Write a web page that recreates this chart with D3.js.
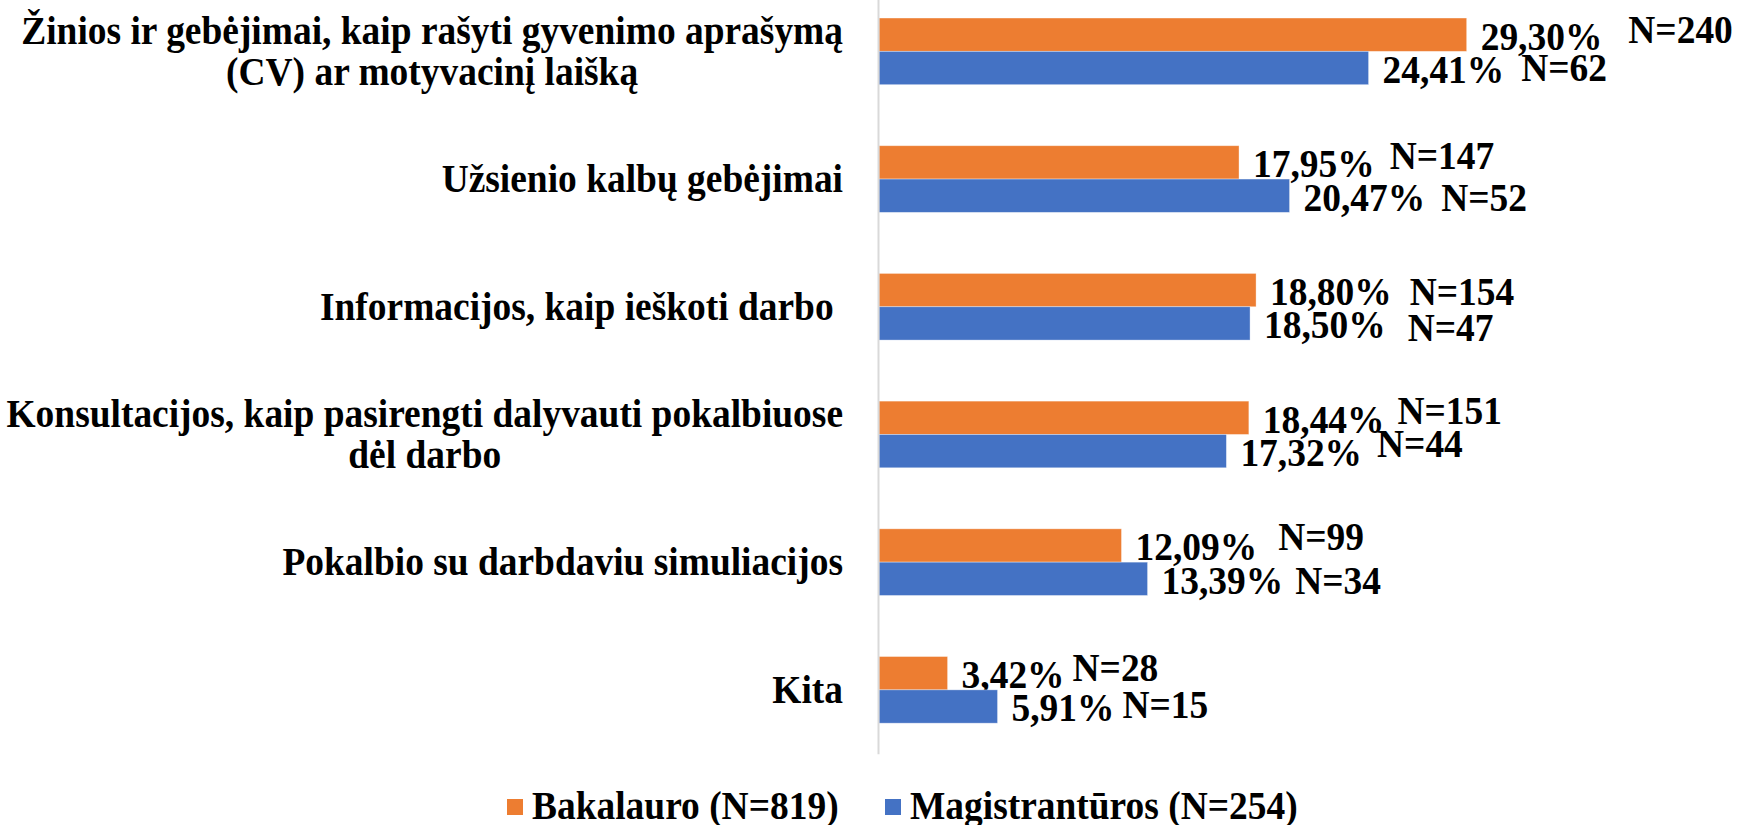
<html>
<head>
  <meta charset="utf-8">
  <script src="https://d3js.org/d3.v7.min.js"></script>
  <style>
    body { margin: 0; background: white; }
    text { font-family: "Liberation Serif", "Times New Roman", serif; font-weight: bold; fill: #000; }
  </style>
</head>
<body>
  <svg id="chart" width="1746" height="825"></svg>
  <script>
    // categories (top to bottom), "\n" = line break in the label
    const categories = [
      "Žinios ir gebėjimai, kaip rašyti gyvenimo aprašymą\n(CV) ar motyvacinį laišką",
      "Užsienio kalbų gebėjimai",
      "Informacijos, kaip ieškoti darbo ",
      "Konsultacijos, kaip pasirengti dalyvauti pokalbiuose\ndėl darbo",
      "Pokalbio su darbdaviu simuliacijos",
      "Kita"
    ];
    const seriesNames = ["Bakalauro (N=819)", "Magistrantūros (N=254)"];
    const bakalauroPct = [29.30, 17.95, 18.80, 18.44, 12.09, 3.42];
    const magistrPct = [24.41, 20.47, 18.50, 17.32, 13.39, 5.91];
    const bakalauroN = [240, 147, 154, 151, 99, 28];
    const magistrN = [62, 52, 47, 44, 34, 15];
    const colors = ["#ED7D31", "#4472C4"];

    // manual nudges of the "N=" labels (moved by hand in the original), [dx, dy]
    const nNudgeBak = [[26, -7], [15, -8], [18, 0], [13, -9], [21, -10], [8, -7]];
    const nNudgeMag = [[17, -2], [16, 0], [22, 3], [15, -9], [12, 0], [8, -3]];

    const svg = d3.select("#chart");
    const fontSize = 39;
    const squeeze = 0.96; // text in the original is a bit narrow
    const axisX = 878;

    // helper: bold serif text, slightly condensed
    function addText(x, y, str, anchor) {
      return svg.append("text")
        .attr("transform", `translate(${x},${y}) scale(${squeeze},1)`)
        .attr("dy", "0.33em")
        .attr("font-size", fontSize)
        .attr("text-anchor", anchor || "start")
        .style("white-space", "pre")
        .text(str);
    }
    const textWidth = t => t.node().getComputedTextLength() * squeeze;

    const x = d3.scaleLinear().domain([0, 35]).range([axisX + 1, axisX + 1 + 702]);
    const y = d3.scaleBand().domain(categories).range([-12.5, 753.7])
      .paddingInner(0.478).paddingOuter(0.239);
    const ySub = d3.scaleBand().domain(seriesNames).range([0, y.bandwidth()]);

    const fmtPct = v => d3.format(".2f")(v).replace(".", ",") + "%";

    // category labels (multi-line centred on each other, block right aligned)
    categories.forEach(cat => {
      const lines = cat.split("\n");
      const cy = y(cat) + y.bandwidth() / 2;
      const lh = 41;
      const texts = lines.map((ln, i) =>
        addText(0, cy + (i - (lines.length - 1) / 2) * lh, ln, "middle"));
      const maxW = d3.max(texts.map(textWidth));
      const cx = axisX - 35 - maxW / 2;
      texts.forEach((t, i) => t.attr("transform",
        `translate(${cx},${cy + (i - (lines.length - 1) / 2) * lh}) scale(${squeeze},1)`));
    });

    const series = [
      { name: seriesNames[0], pct: bakalauroPct, n: bakalauroN, nudge: nNudgeBak, color: colors[0] },
      { name: seriesNames[1], pct: magistrPct, n: magistrN, nudge: nNudgeMag, color: colors[1] }
    ];

    series.forEach(s => {
      categories.forEach((cat, i) => {
        const top = y(cat) + ySub(s.name);
        const h = ySub.bandwidth();
        svg.append("rect")
          .attr("x", x(0))
          .attr("y", top)
          .attr("width", x(s.pct[i]) - x(0))
          .attr("height", h)
          .attr("fill", s.color)
          .attr("stroke", "white")
          .attr("stroke-opacity", 0.45)
          .attr("stroke-width", 0.8);

        const px = x(s.pct[i]) + 14;
        const py = top + h / 2 + 2;
        const pctText = addText(px, py, fmtPct(s.pct[i]));
        const w = textWidth(pctText);
        addText(px + w + s.nudge[i][0], py + s.nudge[i][1], "N=" + s.n[i]);
      });
    });

    // vertical category axis line
    const leftAxis = d3.axisLeft(y).tickSize(0).tickFormat("");
    const axisG = svg.append("g")
      .attr("transform", `translate(${axisX},0)`)
      .call(leftAxis);
    axisG.select(".domain").attr("stroke", "#d9d9d9").attr("stroke-width", 2);

    // legend
    const legendX = [507, 885];
    seriesNames.forEach((name, i) => {
      svg.append("rect")
        .attr("x", legendX[i])
        .attr("y", 799)
        .attr("width", 16)
        .attr("height", 16)
        .attr("fill", colors[i]);
      addText(legendX[i] + 25, 806, name);
    });
  </script>
</body>
</html>
